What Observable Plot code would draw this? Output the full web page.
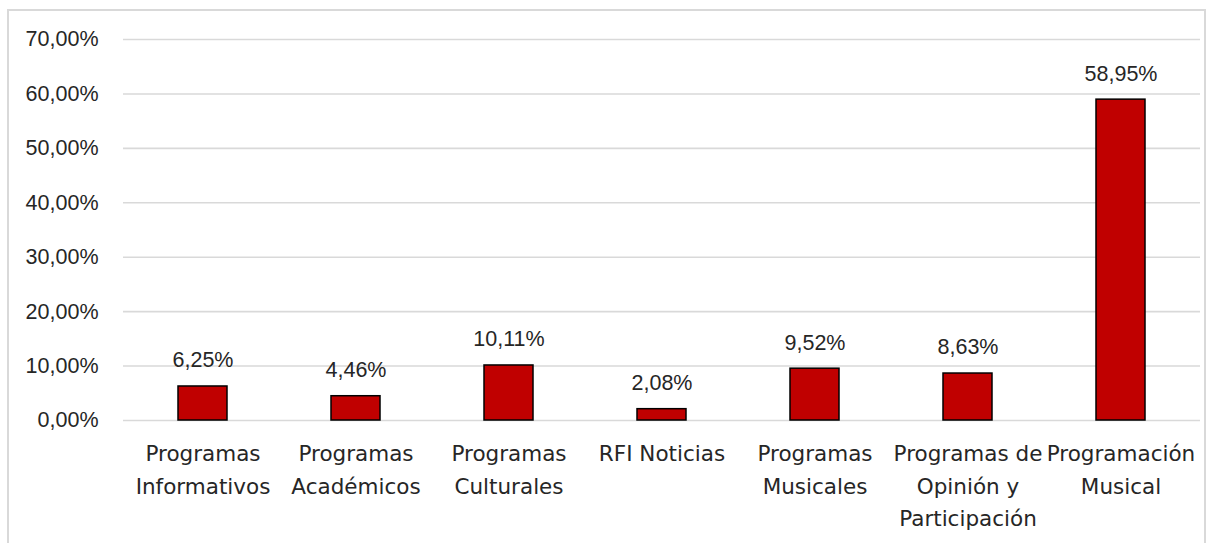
<!DOCTYPE html>
<html>
<head>
<meta charset="utf-8">
<script src="https://cdn.jsdelivr.net/npm/d3@7"></script>
<script src="https://cdn.jsdelivr.net/npm/@observablehq/plot@0.6"></script>
<style>
  html, body { margin: 0; padding: 0; background: #fff; }
  #wrap { position: relative; width: 1215px; height: 543px; overflow: hidden; }
  #frame { position: absolute; left: 7px; top: 9px; width: 1199px; height: 560px; border: 2px solid #d9d9d9; box-sizing: border-box; pointer-events: none; }
  #chart { position: absolute; left: 0; top: 0; }
</style>
</head>
<body>
<div id="wrap"><div id="frame"></div><div id="chart"></div></div>
<script>
const categories = [
  "Programas\nInformativos",
  "Programas\nAcadémicos",
  "Programas\nCulturales",
  "RFI Noticias",
  "Programas\nMusicales",
  "Programas de\nOpinión y\nParticipación",
  "Programación\nMusical"
];
const values = [6.25, 4.46, 10.11, 2.08, 9.52, 8.63, 58.95];
const yTicks = [0, 10, 20, 30, 40, 50, 60, 70];

const data = categories.map((c, i) => ({category: c, value: values[i]}));
const fmt = v => v.toFixed(2).replace(".", ",") + "%";

const chart = Plot.plot({
  width: 1215,
  height: 543,
  marginLeft: 123,
  marginRight: 15,
  marginTop: 39,
  marginBottom: 123,
  style: {background: "transparent", fontFamily: "'Liberation Sans', Arial, sans-serif"},
  x: {domain: categories, paddingInner: 0.68, paddingOuter: 0.34, axis: null},
  y: {domain: [0, 70], axis: null},
  marks: [
    Plot.gridY(yTicks, {stroke: "#d9d9d9", strokeOpacity: 1, strokeWidth: 1.6}),
    Plot.axisY(yTicks, {tickSize: 0, tickPadding: 25, tickFormat: fmt, fontSize: 21.5, fill: "#262626", label: null}),
    Plot.barY(data, {x: "category", y: "value", fill: "#c00000", stroke: "#000", strokeWidth: 1.5}),
    Plot.text(data, {x: "category", y: "value", text: d => fmt(d.value), dy: -26, fontSize: 21.5, fill: "#262626"}),
    Plot.axisX(categories, {tickSize: 0, tickPadding: 18, fontSize: 21.5, lineHeight: 1.5, fill: "#262626", fontFamily: "'DejaVu Sans', sans-serif", label: null})
  ]
});
document.getElementById("chart").appendChild(chart);
</script>
</body>
</html>
